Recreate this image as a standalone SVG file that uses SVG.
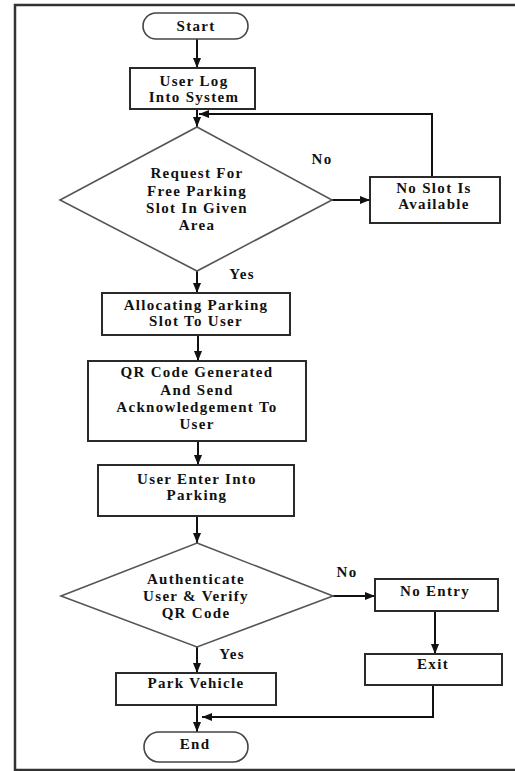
<svg xmlns="http://www.w3.org/2000/svg" width="515" height="771" viewBox="0 0 515 771">
<style>
  .box { fill: #fff; stroke: #2a2a2a; stroke-width: 2; }
  .dia { fill: #fff; stroke: #555; stroke-width: 1.6; }
  .term { fill: #fff; stroke: #444; stroke-width: 1.6; }
  .t { font-family: "Liberation Serif", "Times New Roman", serif; font-weight: bold; font-size: 15px; letter-spacing: 1.3px; fill: #111; text-anchor: middle; }
  .c { fill: none; stroke: #111; stroke-width: 2; }
</style>
<defs>
  <marker id="ah" markerUnits="userSpaceOnUse" markerWidth="10" markerHeight="10" viewBox="0 0 10 10" refX="10" refY="5" orient="auto">
    <path d="M0,1 L10,5 L0,9 Z" fill="#111"/>
  </marker>
</defs>
<rect width="515" height="771" fill="#fff"/>
<path d="M515,5 H15 V770 H515" fill="none" stroke="#333" stroke-width="2.5"/>

<g id="connectors">
  <line class="c" x1="197" y1="39" x2="197" y2="68" marker-end="url(#ah)"/>
  <line class="c" x1="197" y1="109" x2="197" y2="127" marker-end="url(#ah)"/>
  <polyline class="c" points="432,177 432,114 199,114" marker-end="url(#ah)"/>
  <line class="c" x1="332" y1="200" x2="370" y2="200" marker-end="url(#ah)"/>
  <line class="c" x1="197" y1="271" x2="197" y2="293" marker-end="url(#ah)"/>
  <line class="c" x1="198" y1="335" x2="198" y2="361" marker-end="url(#ah)"/>
  <line class="c" x1="198" y1="441" x2="198" y2="465" marker-end="url(#ah)"/>
  <line class="c" x1="197" y1="516" x2="197" y2="543" marker-end="url(#ah)"/>
  <line class="c" x1="333" y1="596" x2="375" y2="596" marker-end="url(#ah)"/>
  <line class="c" x1="435" y1="611" x2="435" y2="654" marker-end="url(#ah)"/>
  <line class="c" x1="197" y1="647" x2="197" y2="673" marker-end="url(#ah)"/>
  <line class="c" x1="197" y1="705" x2="197" y2="732" marker-end="url(#ah)"/>
  <polyline class="c" points="433,685 433,717 202,717" marker-end="url(#ah)"/>
  <text class="t" x="322" y="164">No</text>
  <text class="t" x="242" y="279">Yes</text>
  <text class="t" x="347" y="577">No</text>
  <text class="t" x="232" y="659">Yes</text>
</g>

<g id="start">
  <rect class="term" x="143" y="13" width="105" height="26" rx="13"/>
  <text class="t" x="196" y="31">Start</text>
</g>
<g id="login">
  <rect class="box" x="130" y="68" width="125" height="41"/>
  <text class="t" x="194" y="86">User Log</text>
  <text class="t" x="194" y="102">Into System</text>
</g>
<g id="request">
  <polygon class="dia" points="197,127 332,200 197,271 60,200"/>
  <text class="t" x="197" y="178">Request For</text>
  <text class="t" x="197" y="196">Free Parking</text>
  <text class="t" x="197" y="213">Slot In Given</text>
  <text class="t" x="197" y="230">Area</text>
</g>
<g id="noslot">
  <rect class="box" x="370" y="177" width="130" height="46"/>
  <text class="t" x="434" y="193">No Slot Is</text>
  <text class="t" x="434" y="209">Available</text>
</g>
<g id="allocate">
  <rect class="box" x="102" y="293" width="188" height="42"/>
  <text class="t" x="196" y="310">Allocating Parking</text>
  <text class="t" x="196" y="326">Slot To User</text>
</g>
<g id="qr">
  <rect class="box" x="88" y="361" width="218" height="80"/>
  <text class="t" x="197" y="377">QR Code Generated</text>
  <text class="t" x="197" y="395">And Send</text>
  <text class="t" x="197" y="412">Acknowledgement To</text>
  <text class="t" x="197" y="429">User</text>
</g>
<g id="enter">
  <rect class="box" x="98" y="465" width="196" height="51"/>
  <text class="t" x="197" y="484">User Enter Into</text>
  <text class="t" x="197" y="500">Parking</text>
</g>
<g id="auth">
  <polygon class="dia" points="197,543 333,596 197,647 61,596"/>
  <text class="t" x="196" y="584">Authenticate</text>
  <text class="t" x="196" y="601">User &amp; Verify</text>
  <text class="t" x="196" y="618">QR Code</text>
</g>
<g id="noentry">
  <rect class="box" x="375" y="579" width="123" height="32"/>
  <text class="t" x="435" y="596">No Entry</text>
</g>
<g id="exit">
  <rect class="box" x="365" y="654" width="137" height="31"/>
  <text class="t" x="433" y="669">Exit</text>
</g>
<g id="park">
  <rect class="box" x="116" y="673" width="160" height="32"/>
  <text class="t" x="196" y="688">Park Vehicle</text>
</g>
<g id="end">
  <rect class="term" x="144" y="732" width="104" height="30" rx="15"/>
  <text class="t" x="195" y="749">End</text>
</g>
</svg>
